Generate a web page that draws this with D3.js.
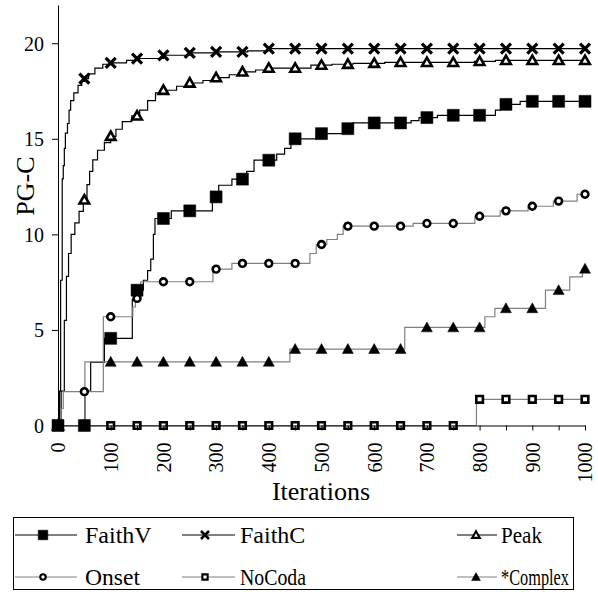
<!DOCTYPE html>
<html>
<head>
<meta charset="utf-8">
<script src="https://cdn.jsdelivr.net/npm/d3@7"></script>
<style>
  body { margin: 0; background: #fff; }
  svg { display: block; }
</style>
</head>
<body>
<div id="wrapper"></div>
<script>
// data: [iteration, PG-C] breakpoints of each step line
const faithV = [[0,0],[51,1.8],[62,3.3],[88,4.56],[141,6.6],[147,7.08],[162,7.6],[170,8.1],[176,8.7],[181,10.0],[184,10.83],[215,11.23],[293,11.96],[305,12.57],[330,12.89],[358,13.3],[372,13.88],[415,14.2],[430,14.5],[442,15.0],[490,15.27],[540,15.53],[560,15.83],[670,15.95],[685,16.11],[720,16.23],[830,16.5],[840,16.8],[877,16.96],[1000,16.96]];
const faithC = [[0,0],[3,1.8],[5,7.6],[8,12.9],[10,13.6],[12,14.5],[14,15.3],[18,15.8],[21,16.5],[24,17.0],[30,17.4],[38,17.8],[45,18.0],[50,18.15],[58,18.4],[70,18.7],[85,18.9],[100,18.97],[130,19.1],[150,19.2],[200,19.37],[250,19.5],[300,19.55],[360,19.6],[400,19.72],[1000,19.72]];
const peak = [[0,0],[6,1.8],[12,5.5],[16,7.8],[20,9.0],[25,10.0],[32,10.6],[40,11.2],[48,11.8],[55,12.6],[60,13.3],[66,13.9],[75,14.4],[88,14.8],[100,15.13],[110,15.5],[122,15.9],[140,16.2],[155,16.5],[170,17.0],[185,17.4],[200,17.54],[225,17.75],[250,17.92],[275,18.05],[300,18.2],[325,18.35],[350,18.5],[375,18.6],[400,18.7],[480,18.85],[520,18.9],[560,18.95],[620,19.0],[790,19.05],[830,19.1],[1000,19.1]];
const onset = [[0,0],[6,0.9],[10,1.77],[86,5.69],[142,6.2],[147,6.65],[157,7.52],[294,8.18],[330,8.48],[478,9.0],[490,9.47],[510,9.73],[530,10.0],[541,10.43],[674,10.57],[791,10.95],[839,11.23],[892,11.47],[940,11.74],[985,12.1],[1000,12.1]];
const noCoda = [[0,0],[794,1.37],[1000,1.37]];
const complex = [[0,0],[51,3.33],[440,4.0],[658,5.13],[810,5.69],[829,6.13],[925,7.08],[971,7.78],[995,8.2],[1000,8.2]];

const markerIters = [0,50,100,150,200,250,300,350,400,450,500,550,600,650,700,750,800,850,900,950,1000];
const xTicks = [0,50,100,150,200,250,300,350,400,450,500,550,600,650,700,750,800,850,900,950,1000];
const xLabels = [0,100,200,300,400,500,600,700,800,900,1000];
const yTicks = [0,5,10,15,20];

const seriesNames = ["FaithV", "FaithC", "Peak", "Onset", "NoCoda", "*Complex"];
const seriesData = [faithV, faithC, peak, onset, noCoda, complex];

// styles
const FONT = "'Liberation Serif', Tinos, 'Times New Roman', Times, 'DejaVu Serif', serif";
const lineColors = ["#000", "#000", "#000", "#808080", "#808080", "#808080"];
const markerTypes = ["filledSquare", "cross", "openTriangle", "circle", "openSquare", "filledTriangle"];
// legend label widths (the reference squeezes them horizontally)
const legendTextWidths = [71, 66, 41, 55, 66, 68];

function markerPath(type, s) {
  // s = scale factor, 1 = plot size
  const h = 6 * s;
  if (type === "filledSquare") return `M${-h},${-h}H${h}V${h}H${-h}Z`;
  if (type === "openSquare") { const q = 3.3 * s; return `M${-q},${-q}H${q}V${q}H${-q}Z`; }
  if (type === "cross") { const q = 5 * s; return `M${-q},${-q}L${q},${q}M${-q},${q}L${q},${-q}`; }
  if (type === "openTriangle") { const w = 4.8 * s; return `M0,${-w}L${w},${w * 0.75}L${-w},${w * 0.75}Z`; }
  if (type === "filledTriangle") { const w = 5.5 * s; return `M0,${-w}L${w},${w * 0.8}L${-w},${w * 0.8}Z`; }
  if (type === "circle") { const r = 3.4 * s; return `M${r},0A${r},${r} 0 1,1 ${-r},0A${r},${r} 0 1,1 ${r},0Z`; }
}
function markerStyle(sel, type, s) {
  const filled = type === "filledSquare" || type === "filledTriangle";
  sel.attr("d", markerPath(type, s))
    .attr("fill", filled ? "#000" : (type === "cross" ? "none" : "#fff"))
    .attr("stroke", "#000")
    .attr("stroke-width", filled ? 0.5 : (type === "cross" ? 3.2 * s : 2.6 * s));
}

function valueAt(data, it) {
  let v = data[0][1];
  for (const d of data) if (d[0] <= it) v = d[1];
  return v;
}

const width = 598;
const height = 592;

const svg = d3.select("#wrapper").append("svg")
  .attr("width", width)
  .attr("height", height)
  .style("font-family", FONT);

const xScale = d3.scaleLinear().domain([0, 1000]).range([58, 585]);
const yScale = d3.scaleLinear().domain([0, 22]).range([425.5, 5]);

// lines + markers
const lineGen = d3.line()
  .x((d) => xScale(d[0]))
  .y((d) => yScale(d[1]))
  .curve(d3.curveStepAfter);

seriesData.forEach((data, i) => {
  svg.append("path")
    .attr("d", lineGen(data))
    .attr("fill", "none")
    .attr("stroke", lineColors[i])
    .attr("stroke-width", 1.2);
});

seriesData.forEach((data, i) => {
  svg.append("g")
    .selectAll("path")
    .data(markerIters)
    .join("path")
    .attr("transform", (it) => `translate(${xScale(it)},${yScale(valueAt(data, it))})`)
    .call(markerStyle, markerTypes[i], 1);
});

// axes
const yAxis = svg.append("g")
  .attr("transform", `translate(${xScale(0)},0)`)
  .call(d3.axisLeft(yScale).tickValues(yTicks).tickSize(6).tickSizeOuter(0).tickPadding(8));
yAxis.attr("font-family", null).attr("font-size", null);
yAxis.selectAll("text").style("font-size", "20px").attr("dy", "0.34em").attr("fill", "#000");

const xAxis = svg.append("g")
  .attr("transform", `translate(0,${yScale(0)})`)
  .call(d3.axisBottom(xScale).tickValues(xTicks).tickSize(5).tickSizeOuter(0)
    .tickFormat((d) => (xLabels.includes(d) ? d : "")));
xAxis.attr("font-family", null).attr("font-size", null);
xAxis.selectAll("text")
  .style("font-size", "20px")
  .attr("fill", "#000")
  .attr("transform", "rotate(-90)")
  .attr("text-anchor", "end")
  .attr("x", -17)
  .attr("y", 0)
  .attr("dy", "0.34em");
svg.selectAll(".domain, .tick line").attr("stroke", "#000");

svg.append("text")
  .attr("x", 321)
  .attr("y", 500)
  .attr("text-anchor", "middle")
  .style("font-size", "26px")
  .text("Iterations");

svg.append("text")
  .attr("transform", "translate(34,186) rotate(-90)")
  .attr("text-anchor", "middle")
  .style("font-size", "26px")
  .text("PG-C");

// legend
const legend = svg.append("g");
legend.append("rect")
  .attr("x", 13.5).attr("y", 517.5)
  .attr("width", 560).attr("height", 72)
  .attr("fill", "none").attr("stroke", "#000");

const legendCols = [{ x1: 15, x2: 77, m: 43, t: 85 }, { x1: 182, x2: 235, m: 205, t: 240 }, { x1: 457, x2: 497, m: 476, t: 501 }];
const legendRows = [535, 577];

seriesNames.forEach((name, i) => {
  const col = legendCols[i % 3];
  const ry = legendRows[Math.floor(i / 3)];
  legend.append("line")
    .attr("x1", col.x1).attr("x2", col.x2)
    .attr("y1", ry).attr("y2", ry)
    .attr("stroke", lineColors[i]).attr("stroke-width", 1.2);
  legend.append("path")
    .attr("transform", `translate(${col.m},${ry})`)
    .call(markerStyle, markerTypes[i], 0.8);
  const label = legend.append("text")
    .attr("dy", "0.33em")
    .style("font-size", "24px")
    .text(name);
  // squeeze horizontally to the width seen in the reference
  const natural = label.node().getComputedTextLength();
  const sx = Math.min(1, legendTextWidths[i] / natural);
  label.attr("transform", `translate(${col.t},${ry}) scale(${sx},1)`);
});
</script>
</body>
</html>
